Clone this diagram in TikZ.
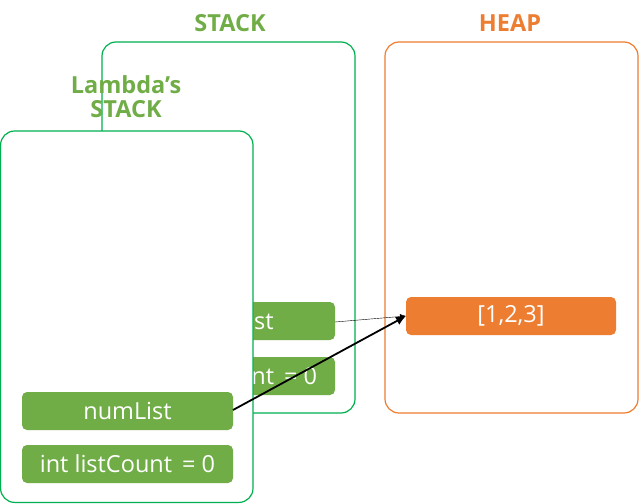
\documentclass[tikz,border=0pt]{standalone}
\usepackage{fontspec}
\setmainfont{Open Sans}
\usetikzlibrary{arrows.meta}
\definecolor{stackgreen}{HTML}{00B050}
\definecolor{itemgreen}{HTML}{70AD47}
\definecolor{heaporange}{HTML}{ED7D31}
\begin{document}
\begin{tikzpicture}[x=1pt,y=-1pt,
  frame/.style={draw=#1,fill=white,rounded corners=14pt,line width=1.2pt},
  item/.style={fill=#1,rounded corners=5pt},
  itemtext/.style={text=white,font=\fontsize{23.5}{27}\selectfont},
  title/.style={text=#1,font=\bfseries\fontsize{23.5}{27}\selectfont,align=center}]
\useasboundingbox (0,0) rectangle (639,503);
% outer stack
\draw[frame=stackgreen] (102,42) rectangle (355,413);
\node[title=itemgreen] (StackTitle) at (230,23) {STACK};
\path[item=itemgreen] (124,302) rectangle (335,340);
\node[itemtext] (OuterList) at (229.5,321) {numList};
\path[item=itemgreen] (124,357) rectangle (335,395);
\node[itemtext] (OuterCount) at (229.5,376) {int listCount\, = 0};
\coordinate (OuterListEnd) at (335,322);
% heap
\draw[frame=heaporange] (385,42) rectangle (638,413);
\node[title=heaporange] (HeapTitle) at (510,23) {HEAP};
\path[item=heaporange] (406,297) rectangle (616,335);
\node[itemtext] (HeapList) at (511,316) {[1,2,3]};
\coordinate (HeapIn) at (406,316);
\draw[line width=0.4pt,-{Latex[length=6pt,width=5pt]}] (OuterListEnd) -- (HeapIn);
% lambda stack
\draw[frame=stackgreen] (0.6,131) rectangle (253,502.4);
\node[title=itemgreen] (LambdaTitle) at (126,97) {Lambda’s\\[-3pt]STACK};
\path[item=itemgreen] (22,392) rectangle (233,430);
\node[itemtext] (LambdaList) at (127.5,411) {numList};
\path[item=itemgreen] (22,445) rectangle (233,483);
\node[itemtext] (LambdaCount) at (127.5,464) {int listCount\, = 0};
\coordinate (LambdaListEnd) at (233,410);
\draw[line width=1.8pt,-{Latex[length=10pt,width=9pt]}] (LambdaListEnd) -- (HeapIn);
\end{tikzpicture}
\end{document}
